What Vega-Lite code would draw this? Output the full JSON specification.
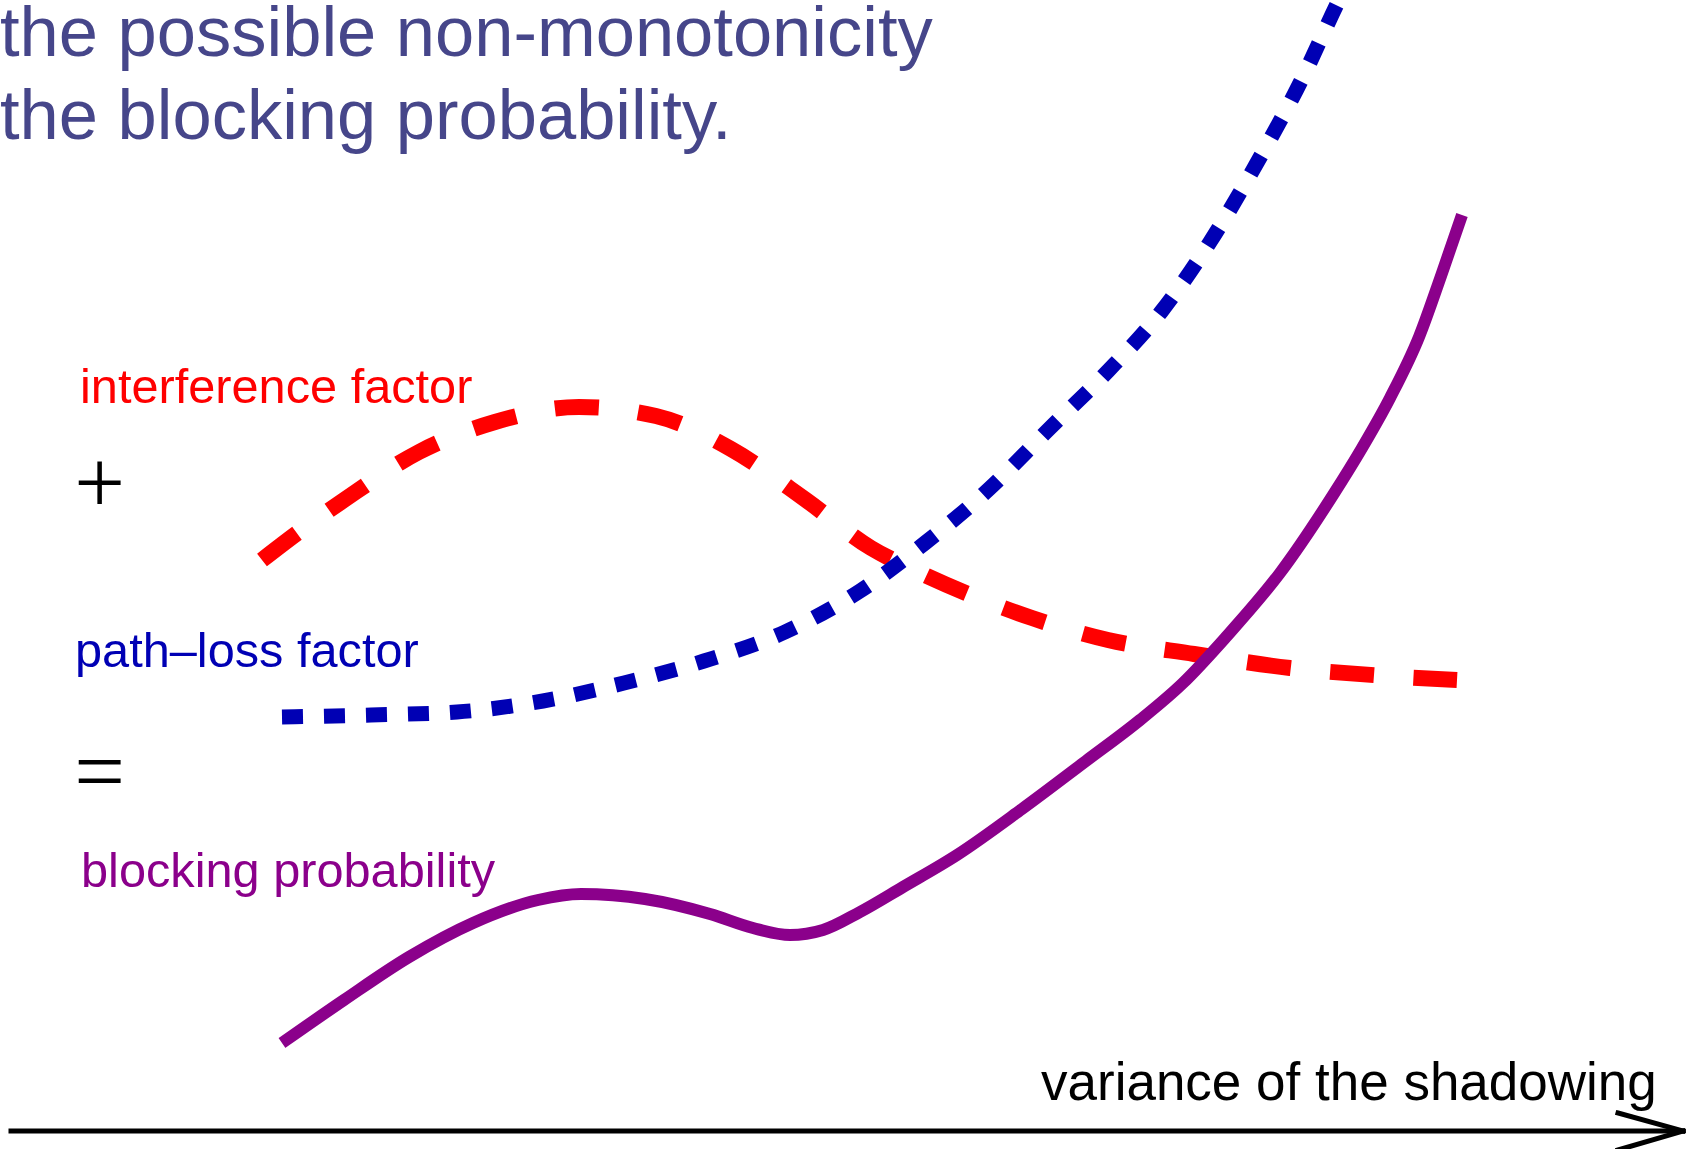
{
  "$schema": "https://vega.github.io/schema/vega-lite/v6.json",
  "width": 1686,
  "height": 1149,
  "autosize": {"type": "fit", "contains": "padding"},
  "padding": 0,
  "background": "white",
  "config": {"view": {"stroke": null}},
  "datasets": {
    "interference": [
      {"x": 262, "y": 560}, {"x": 296, "y": 534}, {"x": 344, "y": 500}, {"x": 419, "y": 452},
      {"x": 495, "y": 422}, {"x": 579, "y": 407}, {"x": 656, "y": 416}, {"x": 731, "y": 449},
      {"x": 806, "y": 500}, {"x": 871, "y": 548}, {"x": 914, "y": 570}, {"x": 968, "y": 594},
      {"x": 1032, "y": 618}, {"x": 1108, "y": 640}, {"x": 1194, "y": 654}, {"x": 1290, "y": 668},
      {"x": 1387, "y": 676}, {"x": 1457, "y": 680}
    ],
    "pathloss": [
      {"x": 282, "y": 717}, {"x": 371, "y": 715}, {"x": 457, "y": 712}, {"x": 543, "y": 701},
      {"x": 624, "y": 683}, {"x": 704, "y": 661}, {"x": 785, "y": 632}, {"x": 860, "y": 591},
      {"x": 925, "y": 543}, {"x": 989, "y": 489}, {"x": 1048, "y": 430}, {"x": 1108, "y": 371},
      {"x": 1161, "y": 312}, {"x": 1210, "y": 242}, {"x": 1258, "y": 161}, {"x": 1301, "y": 81},
      {"x": 1339, "y": 0}, {"x": 1350, "y": -22}
    ],
    "blocking": [
      {"x": 282, "y": 1043}, {"x": 344, "y": 1000}, {"x": 409, "y": 957}, {"x": 473, "y": 923},
      {"x": 538, "y": 900}, {"x": 581, "y": 894}, {"x": 645, "y": 899}, {"x": 710, "y": 914},
      {"x": 753, "y": 928}, {"x": 790, "y": 935}, {"x": 823, "y": 930}, {"x": 860, "y": 912},
      {"x": 903, "y": 887}, {"x": 957, "y": 855}, {"x": 1022, "y": 809}, {"x": 1086, "y": 761},
      {"x": 1140, "y": 720}, {"x": 1183, "y": 683}, {"x": 1226, "y": 637}, {"x": 1280, "y": 573},
      {"x": 1333, "y": 495}, {"x": 1362, "y": 448}, {"x": 1390, "y": 398}, {"x": 1419, "y": 337},
      {"x": 1441, "y": 276}, {"x": 1462, "y": 215}
    ],
    "arrow": [
      {"x": 11, "y": 1131, "x2": 1683, "y2": 1131},
      {"x": 1618, "y": 1113, "x2": 1683, "y2": 1131},
      {"x": 1618, "y": 1150, "x2": 1683, "y2": 1131}
    ]
  },
  "layer": [
    {
      "data": {"name": "interference"},
      "mark": {"type": "line", "color": "#ff0000", "strokeWidth": 16, "strokeDash": [44, 39.5], "interpolate": "monotone", "strokeCap": "butt", "clip": true},
      "encoding": {
        "x": {"field": "x", "type": "quantitative", "scale": {"domain": [0, 1686], "nice": false, "zero": false}, "axis": null},
        "y": {"field": "y", "type": "quantitative", "scale": {"domain": [0, 1149], "nice": false, "zero": false, "reverse": true}, "axis": null}
      }
    },
    {
      "data": {"name": "pathloss"},
      "mark": {"type": "line", "color": "#0000b4", "strokeWidth": 15, "strokeDash": [21, 21], "interpolate": "monotone", "strokeCap": "butt", "clip": true},
      "encoding": {
        "x": {"field": "x", "type": "quantitative"},
        "y": {"field": "y", "type": "quantitative"}
      }
    },
    {
      "data": {"name": "blocking"},
      "mark": {"type": "line", "color": "#8b008b", "strokeWidth": 12, "interpolate": "monotone", "strokeCap": "butt", "clip": true},
      "encoding": {
        "x": {"field": "x", "type": "quantitative"},
        "y": {"field": "y", "type": "quantitative"}
      }
    },
    {
      "data": {"name": "arrow"},
      "mark": {"type": "rule", "color": "black", "strokeWidth": 5, "strokeCap": "square", "clip": true},
      "encoding": {
        "x": {"field": "x", "type": "quantitative"},
        "y": {"field": "y", "type": "quantitative"},
        "x2": {"field": "x2"},
        "y2": {"field": "y2"}
      }
    },
    {
      "data": {"values": [
        {"x": 0, "y": 56, "label": "the possible non-monotonicity"},
        {"x": 0, "y": 139, "label": "the blocking probability."}
      ]},
      "mark": {"type": "text", "align": "left", "baseline": "alphabetic", "font": "Liberation Sans", "fontSize": 70.5, "color": "#46468a"},
      "encoding": {
        "x": {"field": "x", "type": "quantitative"},
        "y": {"field": "y", "type": "quantitative"},
        "text": {"field": "label"}
      }
    },
    {
      "data": {"values": [{"x": 80, "y": 403, "label": "interference factor"}]},
      "mark": {"type": "text", "align": "left", "baseline": "alphabetic", "font": "Liberation Sans", "fontSize": 48.7, "color": "#ff0000"},
      "encoding": {
        "x": {"field": "x", "type": "quantitative"},
        "y": {"field": "y", "type": "quantitative"},
        "text": {"field": "label"}
      }
    },
    {
      "data": {"values": [{"x": 75, "y": 667, "label": "path–loss factor"}]},
      "mark": {"type": "text", "align": "left", "baseline": "alphabetic", "font": "Liberation Sans", "fontSize": 48.7, "color": "#0000b4"},
      "encoding": {
        "x": {"field": "x", "type": "quantitative"},
        "y": {"field": "y", "type": "quantitative"},
        "text": {"field": "label"}
      }
    },
    {
      "data": {"values": [{"x": 81, "y": 887, "label": "blocking probability"}]},
      "mark": {"type": "text", "align": "left", "baseline": "alphabetic", "font": "Liberation Sans", "fontSize": 48.7, "color": "#8b008b"},
      "encoding": {
        "x": {"field": "x", "type": "quantitative"},
        "y": {"field": "y", "type": "quantitative"},
        "text": {"field": "label"}
      }
    },
    {
      "data": {"values": [{"x": 1041, "y": 1100, "label": "variance of the shadowing"}]},
      "mark": {"type": "text", "align": "left", "baseline": "alphabetic", "font": "Liberation Sans", "fontSize": 53, "color": "black"},
      "encoding": {
        "x": {"field": "x", "type": "quantitative"},
        "y": {"field": "y", "type": "quantitative"},
        "text": {"field": "label"}
      }
    },
    {
      "data": {"values": [
        {"x": 99.5, "y": 513, "label": "+"},
        {"x": 99.5, "y": 802, "label": "="}
      ]},
      "mark": {"type": "text", "align": "center", "baseline": "alphabetic", "font": "Liberation Serif", "fontSize": 90, "color": "black"},
      "encoding": {
        "x": {"field": "x", "type": "quantitative"},
        "y": {"field": "y", "type": "quantitative"},
        "text": {"field": "label"}
      }
    }
  ]
}
